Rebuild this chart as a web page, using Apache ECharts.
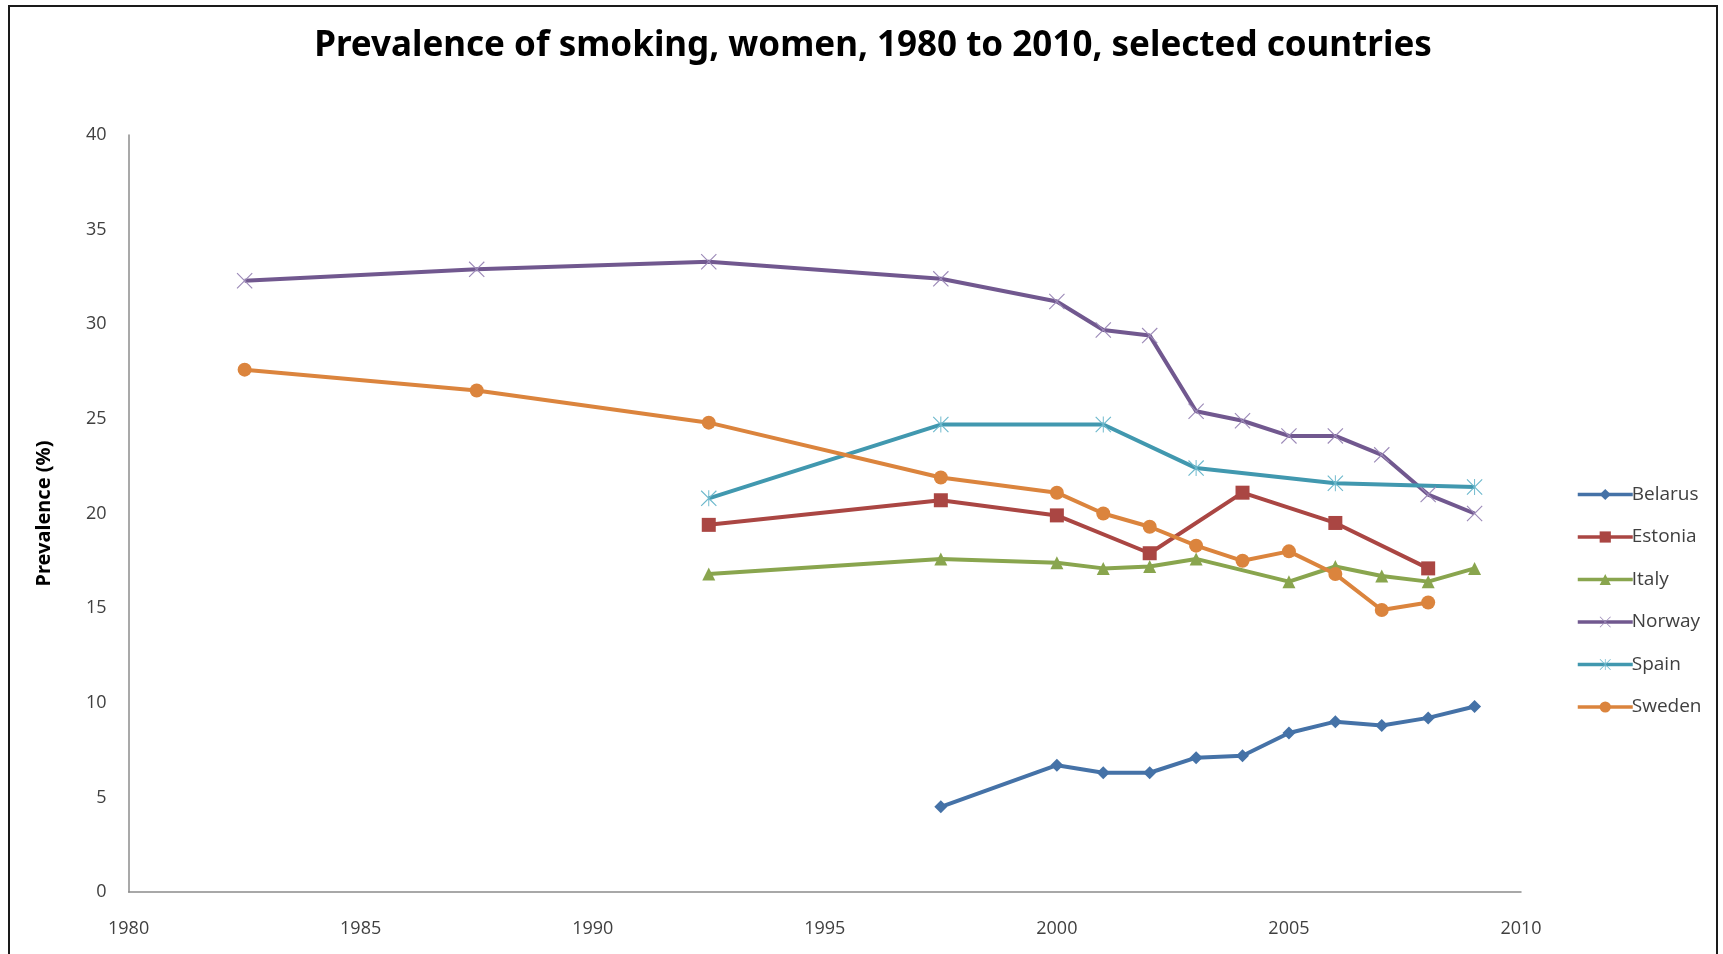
<!DOCTYPE html>
<html>
<head>
<meta charset="utf-8">
<title>Prevalence of smoking, women</title>
<script src="https://cdn.jsdelivr.net/npm/echarts@6/dist/echarts.min.js"></script>
<style>
  html, body { margin: 0; padding: 0; background: #ffffff; }
  #main { width: 1723px; height: 954px; }
</style>
</head>
<body>
<div id="main"></div>
<script>
// data
let countries = ["Belarus", "Estonia", "Italy", "Norway", "Spain", "Sweden"];

let belarusYears = [1997.5, 2000, 2001, 2002, 2003, 2004, 2005, 2006, 2007, 2008, 2009];
let belarusValues = [4.5, 6.7, 6.3, 6.3, 7.1, 7.2, 8.4, 9.0, 8.8, 9.2, 9.8];

let estoniaYears = [1992.5, 1997.5, 2000, 2002, 2004, 2006, 2008];
let estoniaValues = [19.4, 20.7, 19.9, 17.9, 21.1, 19.5, 17.1];

let italyYears = [1992.5, 1997.5, 2000, 2001, 2002, 2003, 2005, 2006, 2007, 2008, 2009];
let italyValues = [16.8, 17.6, 17.4, 17.1, 17.2, 17.6, 16.4, 17.2, 16.7, 16.4, 17.1];

let norwayYears = [1982.5, 1987.5, 1992.5, 1997.5, 2000, 2001, 2002, 2003, 2004, 2005, 2006, 2007, 2008, 2009];
let norwayValues = [32.3, 32.9, 33.3, 32.4, 31.2, 29.7, 29.4, 25.4, 24.9, 24.1, 24.1, 23.1, 21.0, 20.0];

let spainYears = [1992.5, 1997.5, 2001, 2003, 2006, 2009];
let spainValues = [20.8, 24.7, 24.7, 22.4, 21.6, 21.4];

let swedenYears = [1982.5, 1987.5, 1992.5, 1997.5, 2000, 2001, 2002, 2003, 2004, 2005, 2006, 2007, 2008];
let swedenValues = [27.6, 26.5, 24.8, 21.9, 21.1, 20.0, 19.3, 18.3, 17.5, 18.0, 16.8, 14.9, 15.3];

let colors = ["#4572A7", "#AA4643", "#89A54E", "#71588F", "#4198AF", "#DB843D"];

// x and asterisk markers drawn as thin filled paths
let crossPath = "path://M0,1L1,0L10,9L19,0L20,1L11,10L20,19L19,20L10,11L1,20L0,19L9,10Z";
let starPath = "path://M0,1L1,0L10,9L19,0L20,1L11,10L20,19L19,20L10,11L1,20L0,19L9,10Z M9.4,0L10.6,0L10.6,20L9.4,20Z";

function pairs(xs, ys) {
    return xs.map(function (x, i) { return [x, ys[i]]; });
}

let seriesData = [
    pairs(belarusYears, belarusValues),
    pairs(estoniaYears, estoniaValues),
    pairs(italyYears, italyValues),
    pairs(norwayYears, norwayValues),
    pairs(spainYears, spainValues),
    pairs(swedenYears, swedenValues)
];
let symbols = ["diamond", "rect", "triangle", crossPath, starPath, "circle"];
let symbolSizes = [13, 14, 13, 16, 16, 14];
let markerColors = ["#4572A7", "#AA4643", "#89A54E", "#9c8ab8", "#6cb8cc", "#DB843D"];

let dom = document.getElementById("main");
let myChart = echarts.init(dom, null, { renderer: "canvas" });

let option = {
    backgroundColor: "#ffffff",
    animation: false,
    color: colors,
    title: {
        text: "Prevalence of smoking, women, 1980 to 2010, selected countries",
        left: 868,
        textAlign: "center",
        top: 24,
        textStyle: {
            fontFamily: "Noto Sans",
            fontWeight: "bold",
            fontSize: 35,
            color: "#000000"
        }
    },
    graphic: [{
        type: "rect",
        shape: { x: 9, y: 6, width: 1708, height: 960 },
        style: { fill: "none", stroke: "#1a1a1a", lineWidth: 2 },
        silent: true
    }],
    legend: {
        data: countries,
        orient: "vertical",
        left: 1571,
        top: 480,
        itemWidth: 55,
        itemHeight: 14,
        itemGap: 23.5,
        lineStyle: { width: 3.5 },
        textStyle: { fontFamily: "Open Sans", fontSize: 19, color: "#404040", padding: [0, 0, 0, -6] }
    },
    grid: {
        left: 128.6,
        right: 202,
        top: 135,
        bottom: 62,
        containLabel: false
    },
    xAxis: {
        type: "value",
        min: 1980,
        max: 2010,
        interval: 5,
        splitLine: { show: false },
        axisTick: { show: false },
        axisLine: { lineStyle: { color: "#8c8c8c", width: 1.5 } },
        axisLabel: {
            formatter: function (v) { return String(v); },
            fontFamily: "Open Sans",
            fontSize: 18,
            color: "#404040",
            margin: 28
        }
    },
    yAxis: {
        type: "value",
        min: 0,
        max: 40,
        interval: 5,
        name: "Prevalence (%)",
        nameLocation: "middle",
        nameGap: 74,
        nameTextStyle: {
            fontFamily: "Noto Sans",
            fontWeight: "bold",
            fontSize: 20,
            color: "#000000"
        },
        splitLine: { show: false },
        axisTick: { show: false },
        axisLine: { show: true, lineStyle: { color: "#8c8c8c", width: 1.5 } },
        axisLabel: {
            fontFamily: "Open Sans",
            fontSize: 18,
            color: "#404040",
            margin: 22
        }
    },
    series: countries.map(function (name, i) {
        return {
            name: name,
            type: "line",
            data: seriesData[i],
            symbol: symbols[i],
            symbolSize: symbolSizes[i],
            showAllSymbol: true,
            lineStyle: { width: 4, color: colors[i] },
            itemStyle: { color: markerColors[i], borderWidth: 0 }
        };
    })
};

myChart.setOption(option);
window.addEventListener("resize", myChart.resize);
</script>
</body>
</html>
